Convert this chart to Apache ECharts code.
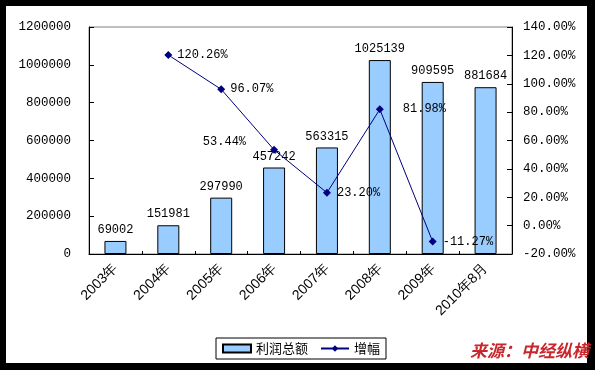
<!DOCTYPE html>
<html><head><meta charset="utf-8">
<script src="https://cdn.jsdelivr.net/npm/echarts@6/dist/echarts.min.js"></script>
<style>html,body{margin:0;padding:0;background:#000;}#c{width:595px;height:370px;}</style>
</head><body><div id="c"></div>
<script>
var categories = ['2003年','2004年','2005年','2006年','2007年','2008年','2009年','2010年8月'];
var profitTotal = [69002,151981,297990,457242,563315,1025139,909595,881684];
var growthRate = [null,120.26,96.07,53.44,23.20,81.98,-11.27,null];
var leftTicks = {min:0,max:1200000,interval:200000};
var rightTicks = {min:-20,max:140,interval:20};

var mono = 'Liberation Mono, DejaVu Sans Mono, monospace';
var labelCfg = [
  null,
  {position:'right',distance:5},
  {position:'right',distance:5},
  {position:'left',distance:24,offset:[0,-8]},
  {position:'right',distance:6},
  {position:'right',distance:19},
  {position:'right',distance:6},
  null
];
var lineData = growthRate.map(function(v,i){
  var d = {value:v};
  if (labelCfg[i]) d.label = labelCfg[i];
  return d;
});

var chart = echarts.init(document.getElementById('c'));
chart.setOption({
  backgroundColor:'#000',
  animation:false,
  graphic:[
    {type:'rect',shape:{x:6,y:6,width:581,height:357},style:{fill:'#fff'},z:-100,silent:true},
    {type:'text',right:6,top:342,z:100,style:{text:'来源：中经纵横',fill:'#C8282C',font:'italic bold 17px "Noto Sans CJK SC"'}}
  ],
  grid:{left:89,top:27,width:423,height:227,show:true,borderColor:'#808080',borderWidth:1,backgroundColor:'transparent'},
  legend:{
    left:216,top:338,padding:[4,6,4,6],itemGap:12,itemWidth:28,itemHeight:8,
    borderColor:'#000',borderWidth:1,backgroundColor:'#fff',
    textStyle:{fontFamily:'Noto Sans CJK SC',fontSize:13,color:'#000'},
    data:[{name:'利润总额',icon:'rect'},{name:'增幅'}]
  },
  xAxis:{
    type:'category',data:categories,
    axisLine:{lineStyle:{color:'#000',width:1}},
    axisTick:{show:true,inside:true,length:3,lineStyle:{color:'#000'},alignWithLabel:false},
    axisLabel:{rotate:45,margin:12,interval:0,color:'#000',fontFamily:'Liberation Sans, Arial',fontSize:14}
  },
  yAxis:[
    {type:'value',min:leftTicks.min,max:leftTicks.max,interval:leftTicks.interval,
     axisLine:{show:true,lineStyle:{color:'#000'}},
     axisTick:{show:true,inside:true,length:5,lineStyle:{color:'#000'}},
     splitLine:{show:false},
     axisLabel:{margin:18,color:'#000',fontFamily:mono,fontSize:12.5,formatter:function(v){return String(v);}}},
    {type:'value',min:rightTicks.min,max:rightTicks.max,interval:rightTicks.interval,position:'right',
     axisLine:{show:true,lineStyle:{color:'#000'}},
     axisTick:{show:true,inside:true,length:5,lineStyle:{color:'#000'}},
     splitLine:{show:false},
     axisLabel:{margin:11,color:'#000',fontFamily:mono,fontSize:12.5,formatter:function(v){return v.toFixed(2)+'%';}}}
  ],
  series:[
    {name:'利润总额',type:'bar',data:profitTotal,barWidth:22,yAxisIndex:0,
     itemStyle:{color:'#99CCFF',borderColor:'#000',borderWidth:1},
     label:{show:true,position:'top',distance:5,color:'#000',fontFamily:mono,fontSize:12}},
    {name:'增幅',type:'line',data:lineData,yAxisIndex:1,connectNulls:false,
     symbol:'diamond',symbolSize:8,
     lineStyle:{color:'#000080',width:1},itemStyle:{color:'#000080'},
     label:{show:true,color:'#000',fontFamily:mono,fontSize:12,
       formatter:function(p){return p.value==null?'':p.value.toFixed(2)+'%';}},
     z:5}
  ]
});
</script></body></html>
